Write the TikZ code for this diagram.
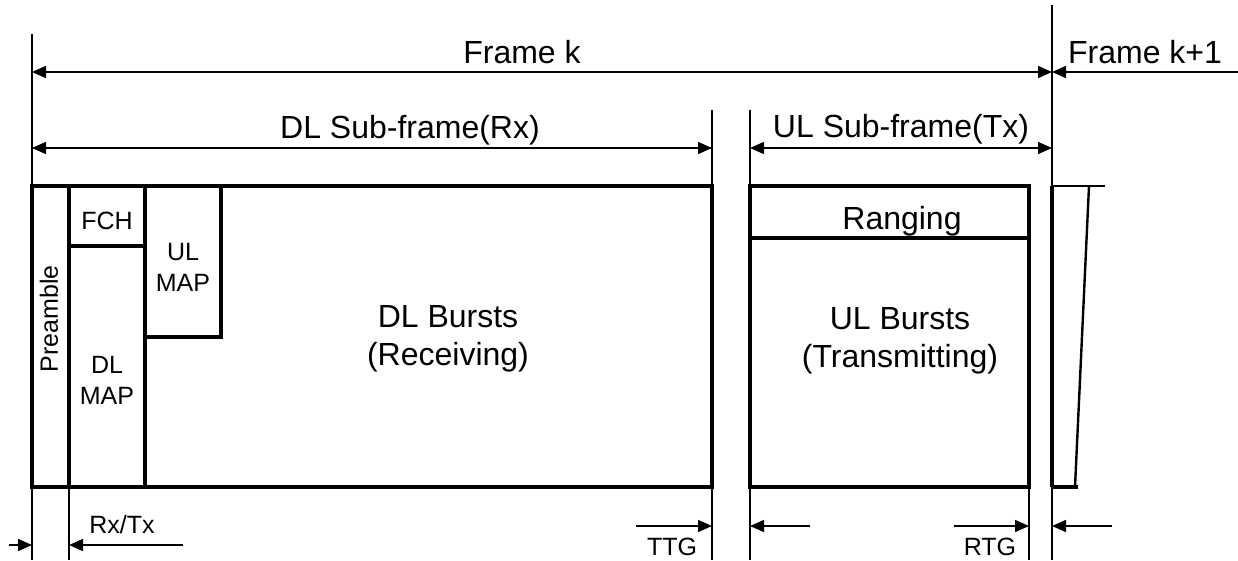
\documentclass[tikz,border=0pt]{standalone}
\usepackage{fontspec}
\setmainfont{Liberation Sans}
\usetikzlibrary{arrows.meta}
\begin{document}
\begin{tikzpicture}[x=1pt,y=-1pt,
  boxline/.style={line width=3.4pt},
  thinline/.style={line width=1.6pt},
  slimbox/.style={line width=2.4pt},
  tip/.tip={Triangle[length=14pt,width=12pt]},
  dimarrow/.style={line width=1.6pt,-tip},
  dimboth/.style={line width=1.6pt,tip-tip},
  big/.style={font=\fontsize{32}{38}\selectfont, align=center, inner sep=0pt},
  small/.style={font=\fontsize{25}{31}\selectfont, align=center, inner sep=0pt}]
\useasboundingbox (0,0) rectangle (1238,560);

% named positions
\coordinate (fkL)   at (32,72);
\coordinate (fkR)   at (1052,72);
\coordinate (fk1R)  at (1238,72);
\coordinate (dlL)   at (32,148);
\coordinate (dlR)   at (712,148);
\coordinate (ulL)   at (750,148);
\coordinate (ulR)   at (1052,148);

% thin vertical guide lines
\draw[thinline] (32,34) -- (32,560);
\draw[thinline] (69,487) -- (69,560);
\draw[thinline] (712,110) -- (712,560);
\draw[thinline] (750,110) -- (750,560);
\draw[thinline] (1029,487) -- (1029,560);
\draw[thinline] (1052,5) -- (1052,560);

% DL sub-frame boxes
\draw[boxline] (32,186) rectangle (712,487);
\draw[boxline] (69,186) -- (69,487);
\draw[boxline] (69,186) rectangle (145,246);
\draw[boxline] (69,246) rectangle (145,487);
\draw[boxline] (145,186) rectangle (221,337);

% UL sub-frame box
\draw[boxline] (750,186) rectangle (1029,487);
\draw[boxline] (750,238) -- (1029,238);

% next frame partial box
\draw[boxline] (1052,186) -- (1052,487);
\draw[slimbox] (1052,186) -- (1105,186);
\draw[slimbox] (1089,186) -- (1075,487);
\draw[boxline] (1052,487) -- (1078,487);

% dimension arrows
\draw[dimboth] (fkL) -- (fkR);
\draw[dimarrow] (fk1R) -- (fkR);
\draw[dimboth] (dlL) -- (dlR);
\draw[dimboth] (ulL) -- (ulR);

\coordinate (a1s) at (9,545);    \coordinate (a1e) at (32,545);
\coordinate (a2s) at (183,545);  \coordinate (a2e) at (69,545);
\coordinate (a3s) at (636,526);  \coordinate (a3e) at (712,526);
\coordinate (a4s) at (810,526);  \coordinate (a4e) at (750,526);
\coordinate (a5s) at (954,526);  \coordinate (a5e) at (1029,526);
\coordinate (a6s) at (1112,526); \coordinate (a6e) at (1052,526);
\draw[dimarrow] (a1s) -- (a1e);
\draw[dimarrow] (a2s) -- (a2e);
\draw[dimarrow] (a3s) -- (a3e);
\draw[dimarrow] (a4s) -- (a4e);
\draw[dimarrow] (a5s) -- (a5e);
\draw[dimarrow] (a6s) -- (a6e);

% labels
\node[big, anchor=base] (lfk)  at (522,63)  {Frame k};
\node[big, anchor=base] (lfk1) at (1145,63) {Frame k+1};
\node[big, anchor=base] (ldl)  at (410,138) {DL Sub-frame(Rx)};
\node[big, anchor=base] (lul)  at (901,137) {UL Sub-frame(Tx)};
\node[big] (ldlb) at (448,339) {DL Bursts\\(Receiving)};
\node[big, anchor=base] (lrng) at (902,229) {Ranging};
\node[big] (lulb) at (900,341) {UL Bursts\\(Transmitting)};
\node[small, rotate=90] (lpre) at (49,319) {Preamble};
\node[small, anchor=base] (lfch) at (107,229) {FCH};
\node[small] (lulm) at (183,267) {UL\\MAP};
\node[small] (ldlm) at (107,380) {DL\\MAP};
\node[small, anchor=base] (lrt) at (122,533) {Rx/Tx};
\node[small, anchor=base] (lttg) at (672,555) {TTG};
\node[small, anchor=base] (lrtg) at (990,555) {RTG};
\end{tikzpicture}
\end{document}
